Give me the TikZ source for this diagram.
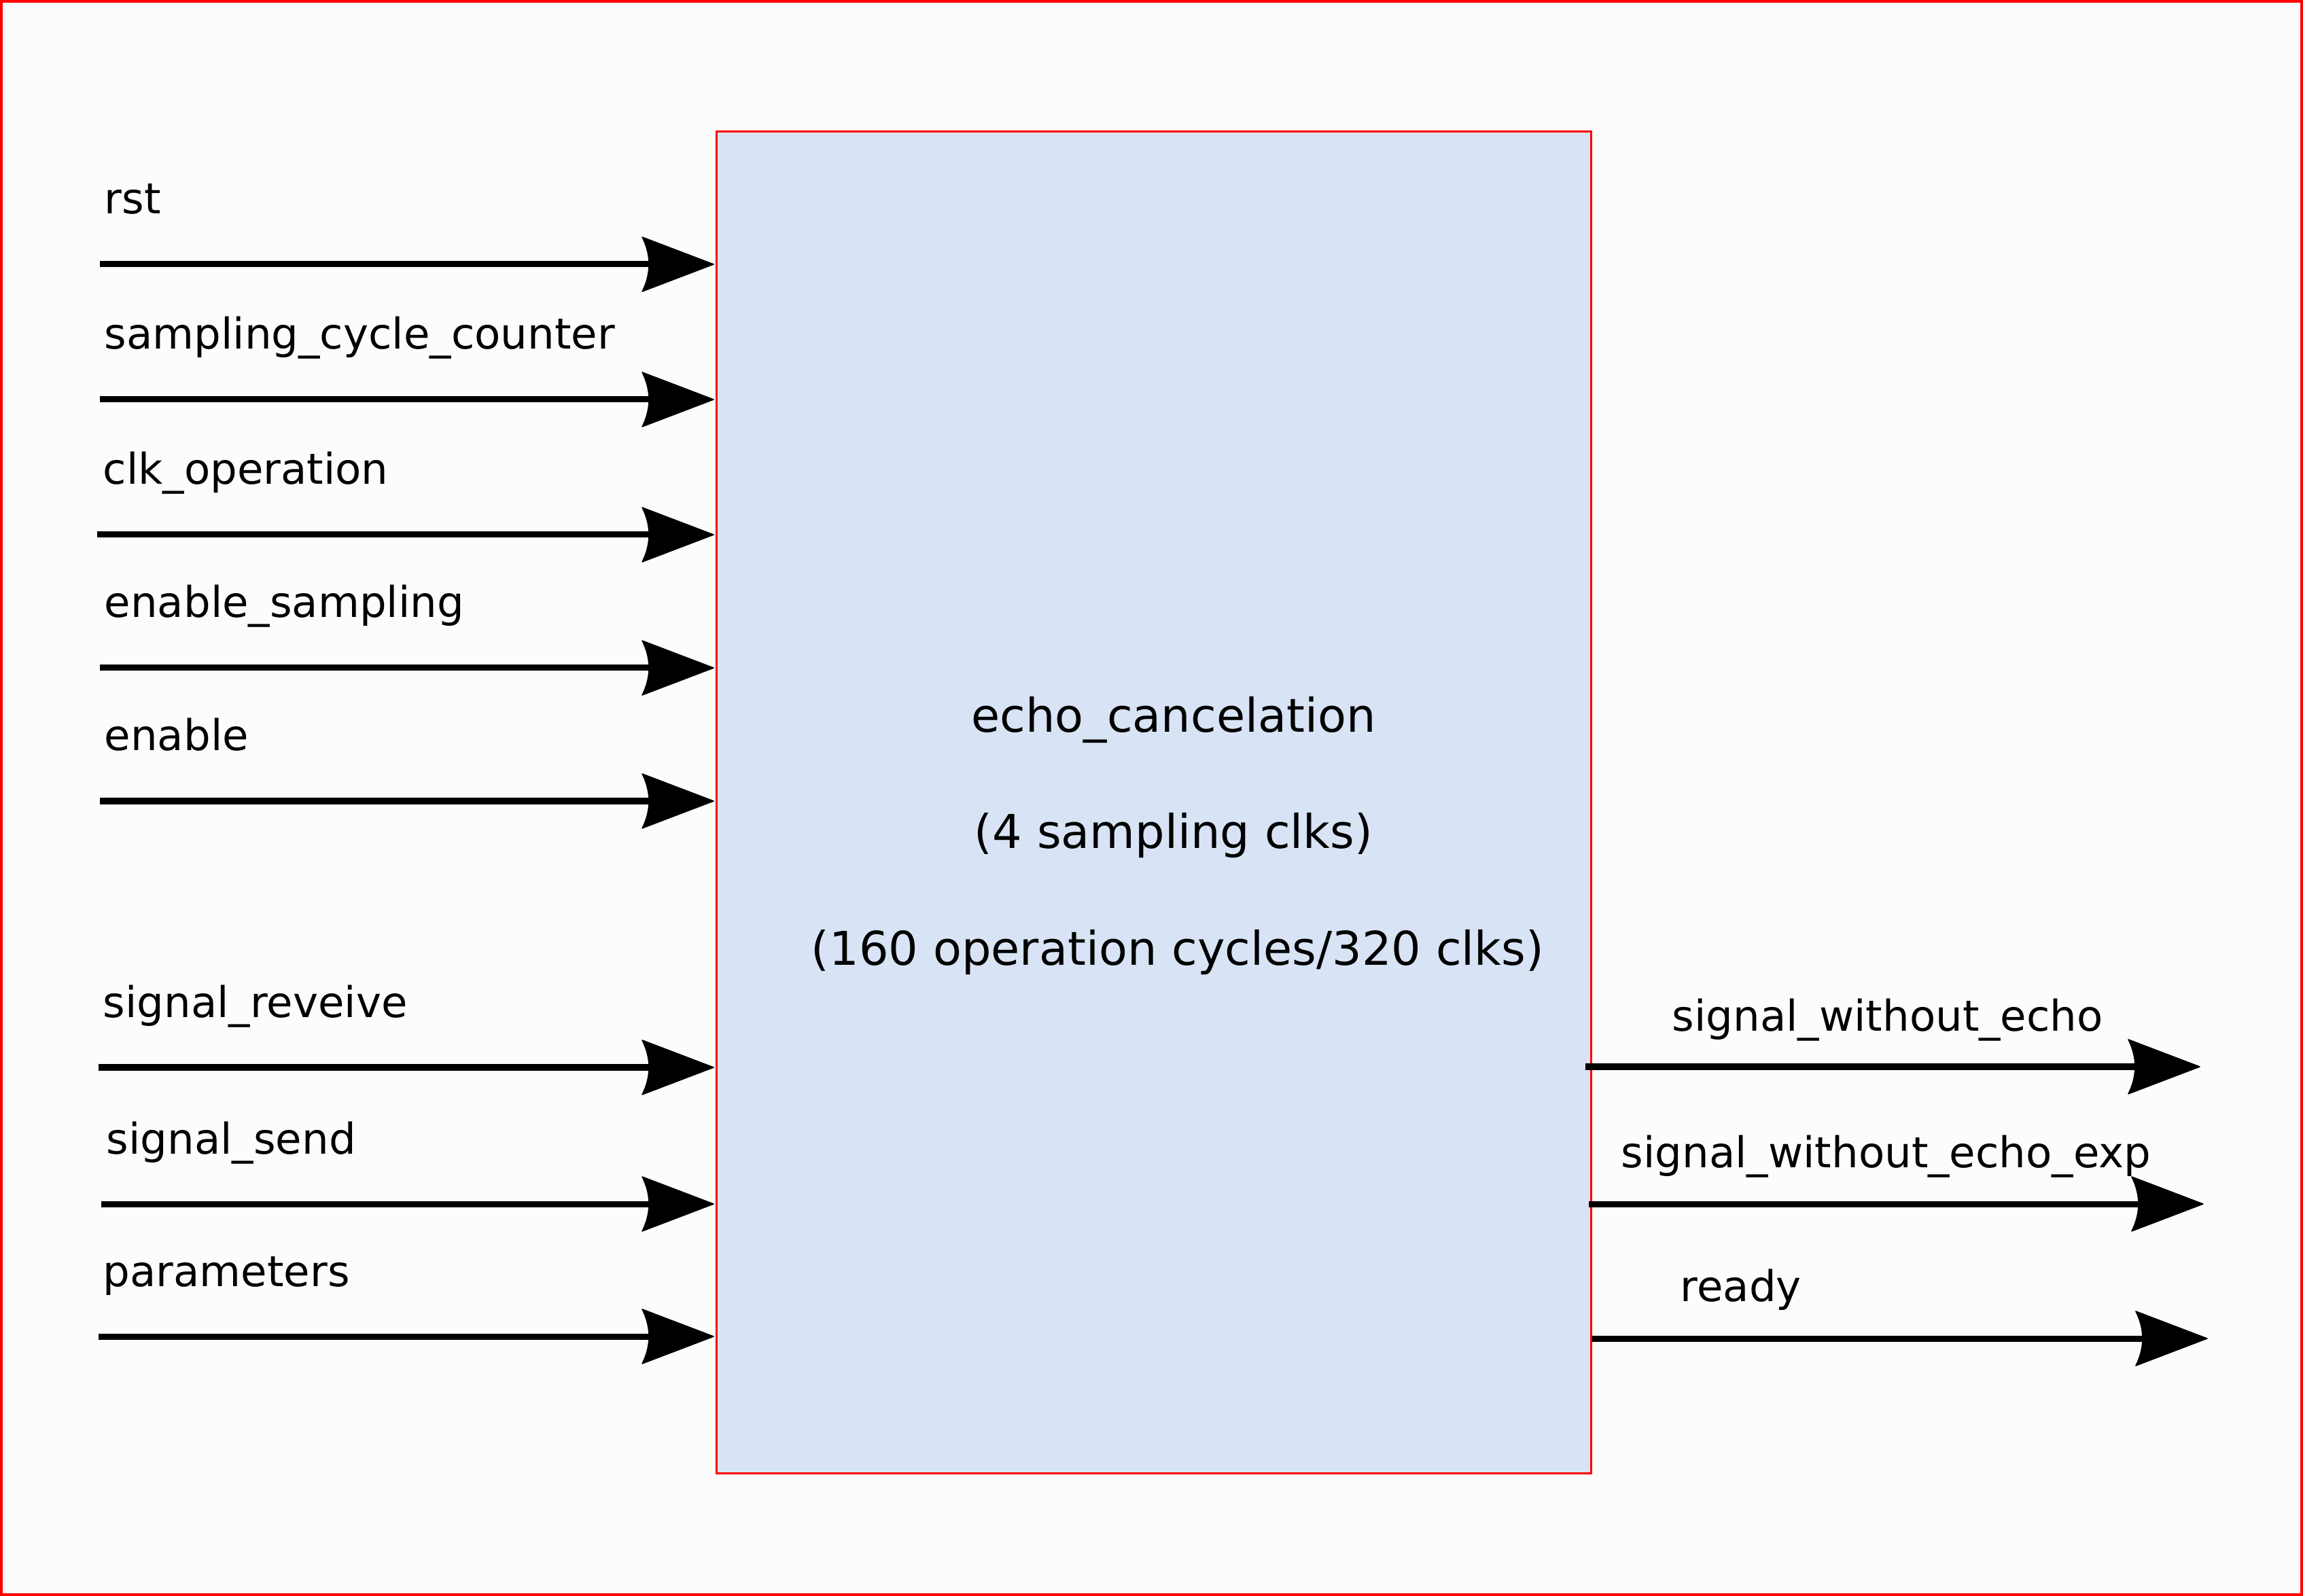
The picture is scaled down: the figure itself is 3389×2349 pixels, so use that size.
\documentclass[tikz,border=0pt]{standalone}
\usepackage{fontspec}
\setmainfont{DejaVu Sans}
\usetikzlibrary{arrows.meta}
\definecolor{pagebg}{RGB}{252,252,252}
\definecolor{blockfill}{RGB}{216,228,245}

% filled barb head with a concave, curved back
\pgfdeclarearrow{
  name = Barb,
  setup code = {
    \pgfarrowssettipend{0pt}
    \pgfarrowssetlineend{-0.9cm}
    \pgfarrowssetbackend{-1.05cm}
    \pgfarrowssetvisualbackend{-0.95cm}
  },
  drawing code = {
    \pgfsetroundjoin
    \pgfsetlinewidth{0.015cm}
    \pgfsetdash{}{0pt}
    \pgfpathmoveto{\pgfpoint{0cm}{0cm}}
    \pgfpathlineto{\pgfpoint{-1.05cm}{0.4cm}}
    \pgfpathcurveto{\pgfpoint{-0.917cm}{0.133cm}}{\pgfpoint{-0.917cm}{-0.133cm}}{\pgfpoint{-1.05cm}{-0.4cm}}
    \pgfpathclose
    \pgfusepathqfillstroke
  }
}

\begin{document}
\begin{tikzpicture}[x=0.01cm,y=-0.01cm,
  sig/.style={line width=0.09cm, -{Barb}},
  lbl/.style={anchor=base west, inner sep=0pt,
    font=\fontsize{17.8pt}{21pt}\selectfont},
  ctr/.style={anchor=base, inner sep=0pt,
    font=\fontsize{19.5pt}{23pt}\selectfont}]
\useasboundingbox (0,0) rectangle (3389,2349);
% page background and frame
\fill[pagebg] (0,0) rectangle (3389,2349);
\draw[red, line width=0.04cm] (2,2) rectangle (3387,2347);

% the block
\node[draw=red, fill=blockfill, line width=0.03cm, inner sep=0pt,
  minimum width=12.86cm, minimum height=19.74cm] (ec) at (1698,1181) {};
\node[ctr] (t1) at (1727,1078) {echo\_cancelation};
\node[ctr] (t2) at (1727,1249) {(4 sampling clks)};
\node[ctr] (t3) at (1733,1420) {(160 operation cycles/320 clks)};

% inputs
\coordinate (i1) at (147,389);
\coordinate (i2) at (147,588);
\coordinate (i3) at (143,787);
\coordinate (i4) at (147,983);
\coordinate (i5) at (147,1179);
\coordinate (i6) at (145,1571);
\coordinate (i7) at (149,1772);
\coordinate (i8) at (145,1967);
\foreach \i in {1,...,8} \draw[sig] (i\i) -- ([xshift=-0.03cm]ec.west |- i\i);

\node[lbl] (l1) at (153,315) {rst};
\node[lbl] (l2) at (153,514) {sampling\_cycle\_counter};
\node[lbl] (l3) at (151,713) {clk\_operation};
\node[lbl] (l4) at (153,909) {enable\_sampling};
\node[lbl] (l5) at (153,1105) {enable};
\node[lbl] (l6) at (151,1497) {signal\_reveive};
\node[lbl] (l7) at (156,1698) {signal\_send};
\node[lbl] (l8) at (151,1893) {parameters};

% outputs
\coordinate (o1) at (2333,1570);
\coordinate (o2) at (2338,1772);
\coordinate (o3) at (2343,1970);
\coordinate (e1) at (3237,1570);
\coordinate (e2) at (3242,1772);
\coordinate (e3) at (3248,1970);
\foreach \i in {1,2,3} \draw[sig] (o\i) -- (e\i);

\node[lbl] (r1) at (2460,1517) {signal\_without\_echo};
\node[lbl] (r2) at (2385,1718) {signal\_without\_echo\_exp};
\node[lbl] (r3) at (2472,1915) {ready};
\end{tikzpicture}
\end{document}
